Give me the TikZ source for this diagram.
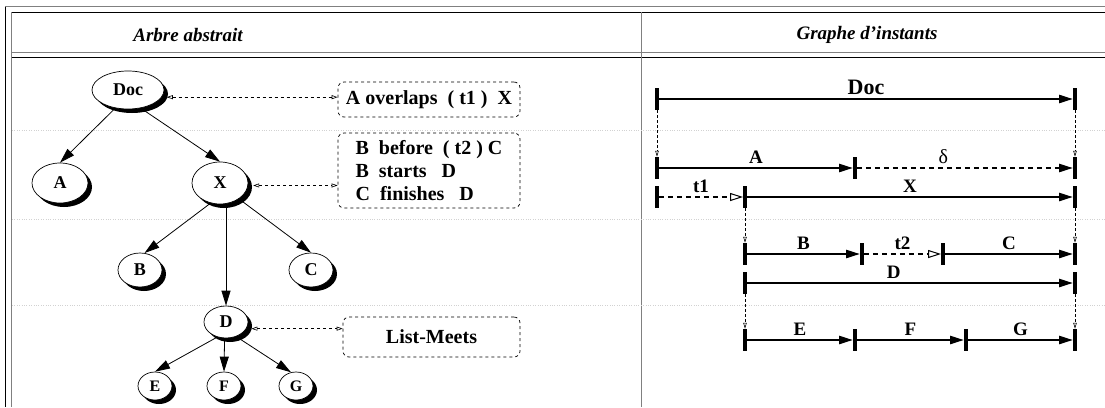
\documentclass[tikz,border=0pt]{standalone}
\usepackage{fontspec}
\setmainfont{Liberation Serif}
\usetikzlibrary{shapes.geometric,shadows,arrows.meta}

\tikzset{
  noeud/.style={ellipse,draw,fill=white,inner sep=0pt,line width=0.7pt,
    font=\fontsize{18}{18}\selectfont\bfseries,
    drop shadow={shadow xshift=4pt,shadow yshift=-4pt,opacity=1,fill=black}},
  petit/.style={noeud,minimum width=34pt,minimum height=28pt,font=\fontsize{16}{16}\selectfont\bfseries},
  fils/.style={-{Triangle[length=15pt,width=9pt]},line width=0.8pt},
  boite/.style={draw,dashed,rounded corners=6pt,align=left,inner sep=0pt,line width=0.7pt,
    font=\fontsize{20}{23}\selectfont\bfseries},
  lien/.style={{Triangle[open,length=6pt,width=4pt]}-{Triangle[open,length=6pt,width=4pt]},
    dashed,line width=0.6pt,shorten <=5pt},
  borne/.style={fill,inner sep=0pt,minimum width=3.5pt,minimum height=22pt},
  seg/.style={-{Triangle[length=14pt,width=8pt]},line width=2.4pt},
  delai/.style={seg,dash pattern=on 5pt off 4pt},
  ouvert/.style={-{Triangle[open,length=13pt,width=8pt,line width=1pt]},line width=2.4pt,
    dash pattern=on 5pt off 4pt},
  suite/.style={-{Triangle[open,length=6pt,width=3.5pt]},line width=0.6pt,dash pattern=on 3pt off 2pt},
  etiq/.style={above=2pt,inner sep=1pt,font=\fontsize{19}{19}\selectfont\bfseries},
  titre/.style={font=\fontsize{19}{19}\selectfont\bfseries\itshape},
}

\begin{document}
\begin{tikzpicture}[x=1pt,y=-1pt]
  \useasboundingbox (0,0) rectangle (1105,407);
  % le tableau
  \draw[gray,line width=1pt] (5,6.5) -- (1105,6.5);
  \draw[line width=0.8pt] (5,6.5) -- (5,407);
  \draw[line width=0.8pt] (11.5,12) -- (1105,12);
  \draw[gray,line width=1.2pt] (11.5,12) -- (11.5,407);
  \draw[gray,line width=1pt] (11.5,52) -- (1105,52);
  \draw[line width=0.8pt] (11.5,57) -- (1105,57);
  \draw[gray,line width=1pt] (641,12) -- (641,407);
  \foreach \y in {130,219,305}
    \draw[gray!35,dotted] (12,\y) -- (1105,\y);
  \node[titre] (tarbre) at (188,35) {Arbre abstrait};
  \node[titre] (tgraphe) at (867,35) {Graphe d’instants};

  % arbre abstrait
  \node[noeud,minimum width=72pt,minimum height=38pt] (doc) at (128,90) {Doc};
  \node[noeud,minimum width=56pt,minimum height=40pt] (a) at (60,183) {A};
  \node[noeud,minimum width=56pt,minimum height=42pt] (x) at (220,183) {X};
  \node[noeud,minimum width=44pt,minimum height=34pt] (b) at (140,270) {B};
  \node[noeud,minimum width=44pt,minimum height=34pt] (c) at (311,270) {C};
  \node[noeud,minimum width=44pt,minimum height=32pt] (d) at (226,322) {D};
  \node[petit] (e) at (155,386) {E};
  \node[petit] (f) at (224,386) {F};
  \node[petit] (g) at (296,386) {G};
  \draw[fils] (doc.-125) -- (a.north);
  \draw[fils] (doc.-55) -- (x.north);
  \draw[fils] (x.-115) -- (b.75);
  \draw[fils] (x.-40) -- (c.north);
  \draw[fils] (d.north |- x.south) -- (d.north);
  \draw[fils] (d.-120) -- (e.north);
  \draw[fils] (d.-95) -- (f.north);
  \draw[fils] (d.-55) -- (g.110);

  \node[boite,minimum width=182pt,minimum height=35pt] (r1) at (429,99.5) {A overlaps~~( t1 )~~X};
  \node[boite,minimum width=182pt,minimum height=75pt] (r2) at (429,170.5)
    {B~~before~~( t2 )~C\\B~~starts~~~D\\C~~finishes~~~D};
  \node[boite,minimum width=177pt,minimum height=40pt] (r3) at (431.5,337) {List-Meets};
  \draw[lien] (doc.-12) -- (doc.-12 -| r1.west);
  \draw[lien] (x.-5) -- (x.-5 -| r2.west);
  \draw[lien] (d.-18) -- (d.-18 -| r3.west);

  % graphe d'instants
  \foreach \n/\px/\py in {dl/657/99, dr/1075/99, al/657/168, am/855/168, ar/1075/168,
      xl/657/197, xm/745/197, xr/1075/197, bl/745/254, bm/862/254, bc/943/254, br/1075/254,
      ddl/745/283, ddr/1075/283, el/745/340, em/855/340, fm/966/340, er/1075/340}
    \node[borne] (\n) at (\px,\py) {};
  \draw[seg] (dl) -- node[etiq,font=\fontsize{22}{22}\selectfont\bfseries] {Doc} (dr);
  \draw[seg] (al) -- node[etiq] {A} (am);
  \draw[delai] (am) -- node[etiq,font=\fontsize{20}{20}\selectfont,pos=0.4] {δ} (ar);
  \draw[ouvert] (xl) -- node[etiq] {t1} (xm);
  \draw[seg] (xm) -- node[etiq] {X} (xr);
  \draw[seg] (bl) -- node[etiq] {B} (bm);
  \draw[ouvert] (bm) -- node[etiq] {t2} (bc);
  \draw[seg] (bc) -- node[etiq] {C} (br);
  \draw[seg] (ddl) -- node[etiq,pos=0.45] {D} (ddr);
  \draw[seg] (el) -- node[etiq] {E} (em);
  \draw[seg] (em) -- node[etiq] {F} (fm);
  \draw[seg] (fm) -- node[etiq] {G} (er);
  \draw[suite] (dl) -- (al);
  \draw[suite] (dr) -- (ar);
  \draw[suite] (xm) -- (bl);
  \draw[suite] (xr) -- (br);
  \draw[suite] (ddl) -- (el);
  \draw[suite] (ddr) -- (er);
\end{tikzpicture}
\end{document}
